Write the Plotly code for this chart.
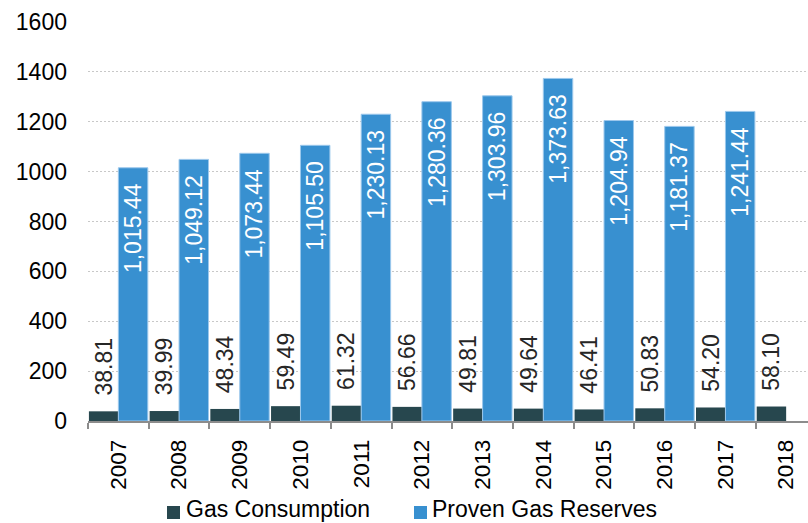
import plotly.graph_objects as go

years = ["2007", "2008", "2009", "2010", "2011", "2012",
         "2013", "2014", "2015", "2016", "2017", "2018"]
gas_consumption = [38.81, 39.99, 48.34, 59.49, 61.32, 56.66,
                   49.81, 49.64, 46.41, 50.83, 54.20, 58.10]
proven_reserves = [1015.44, 1049.12, 1073.44, 1105.50, 1230.13, 1280.36,
                   1303.96, 1373.63, 1204.94, 1181.37, 1241.44, None]
y_ticks = [0, 200, 400, 600, 800, 1000, 1200, 1400, 1600]

series_names = ["Gas Consumption", "Proven Gas Reserves"]
series_colors = ["#27474e", "#3890d0"]

FONT = "Liberation Sans, Arial, sans-serif"
NB = "\u00a0"

# plot-area geometry in pixels (used for the hand-placed legend)
W, H = 808, 523
L, T, B = 88, 22, 102
PW, PH = W - L, H - T - B


def px_x(px):
    return (px - L) / PW


def px_y(py):
    return (H - B - py) / PH


fig = go.Figure()

fig.add_trace(go.Bar(
    name=series_names[0],
    x=years,
    y=gas_consumption,
    marker=dict(color=series_colors[0], line=dict(width=0)),
    texttemplate=NB * 2 + "%{y:.2f}",
    textposition="outside",
    textangle=-90,
    constraintext="none",
    cliponaxis=False,
    textfont=dict(family=FONT, size=23, color="#262626"),
    showlegend=False,
))

fig.add_trace(go.Bar(
    name=series_names[1],
    x=years,
    y=proven_reserves,
    marker=dict(color=series_colors[1], line=dict(color="#9cc8ec", width=1)),
    texttemplate="%{y:,.2f}" + NB * 2,
    textposition="inside",
    insidetextanchor="end",
    textangle=-90,
    constraintext="none",
    textfont=dict(family=FONT, size=23, color="#ffffff"),
    showlegend=False,
))

# legend: coloured squares followed by the series names
legend_items = [(167, 185), (414, 431)]
shapes, annotations = [], []
for (sq_x, tx_x), name, color in zip(legend_items, series_names, series_colors):
    shapes.append(dict(
        type="rect", xref="paper", yref="paper",
        x0=px_x(sq_x), x1=px_x(sq_x + 13),
        y0=px_y(519), y1=px_y(506),
        fillcolor=color, line=dict(width=0),
    ))
    annotations.append(dict(
        xref="paper", yref="paper",
        x=px_x(tx_x), y=px_y(522.5),
        xanchor="left", yanchor="bottom",
        text=name, showarrow=False, borderpad=0,
        font=dict(family=FONT, size=23, color="#000000"),
    ))

fig.update_layout(
    width=W,
    height=H,
    margin=dict(l=L, r=0, t=T, b=B),
    paper_bgcolor="white",
    plot_bgcolor="white",
    barmode="group",
    bargap=0.03,
    bargroupgap=0,
    font=dict(family=FONT, size=23, color="#000000"),
    showlegend=False,
    shapes=shapes,
    annotations=annotations,
    xaxis=dict(
        type="category",
        range=[-0.5, 11.36],
        automargin=False,
        tickangle=-90,
        ticks="outside",
        tickson="boundaries",
        ticklen=6,
        tickwidth=1.5,
        tickcolor="#8c8c8c",
        showline=True,
        linecolor="#8c8c8c",
        linewidth=1.5,
        showgrid=False,
        ticklabelstandoff=8,
        tickfont=dict(family=FONT, size=22.5, color="#000000"),
    ),
    yaxis=dict(
        range=[0, 1600],
        automargin=False,
        tickvals=y_ticks,
        ticktext=[str(v) for v in y_ticks],
        showline=False,
        zeroline=False,
        showgrid=True,
        gridcolor="#c8c8c8",
        gridwidth=1,
        griddash="2px,2px",
        ticklabelstandoff=20,
        tickfont=dict(family=FONT, size=23, color="#000000"),
    ),
)

fig.write_html("out.html")
